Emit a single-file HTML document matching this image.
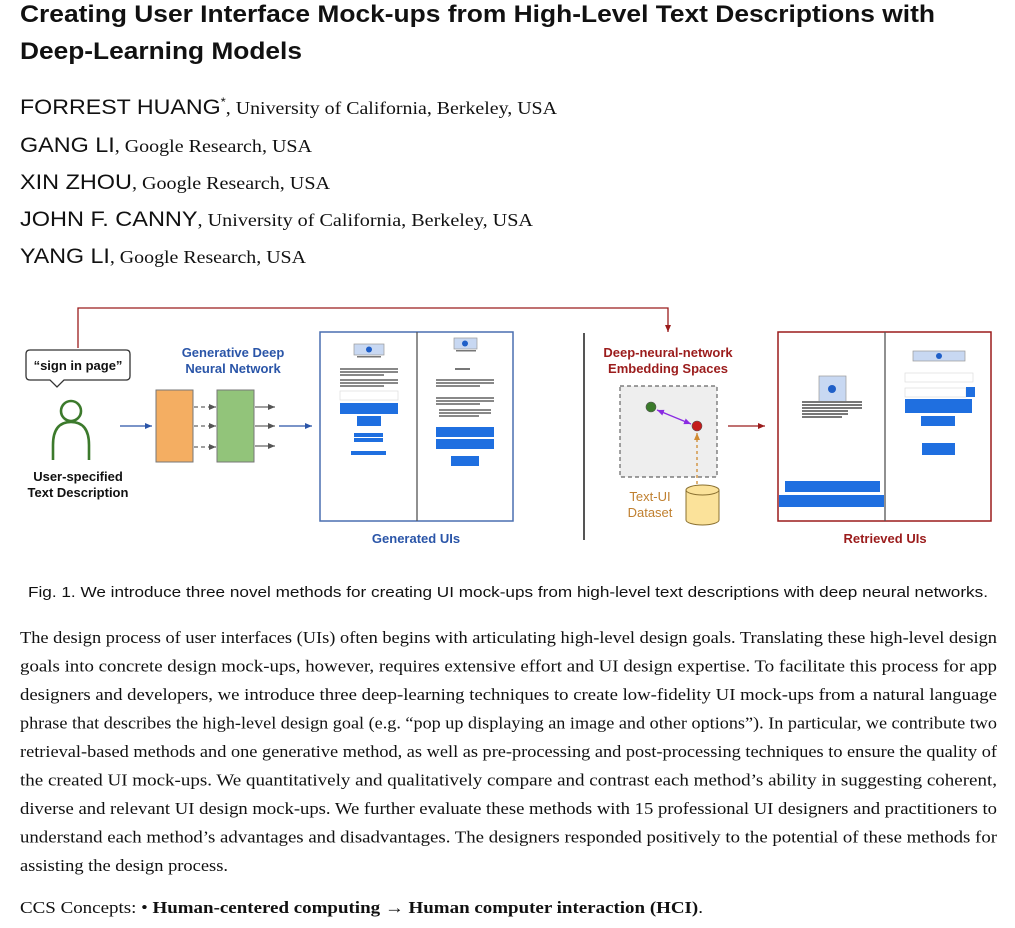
<!DOCTYPE html>
<html><head><meta charset="utf-8"><style>
html,body{margin:0;padding:0;background:#fff;}
svg{display:block;}
.t{font-family:"Liberation Sans",sans-serif;font-weight:bold;fill:#111;}
.nm{font-family:"Liberation Sans",sans-serif;fill:#111;}
.af{font-family:"Liberation Serif",serif;fill:#111;}
.p{font-family:"Liberation Serif",serif;font-size:16.5px;fill:#111;}
.fs{font-family:"Liberation Sans",sans-serif;font-weight:bold;font-size:13px;}
</style></head><body>
<svg width="1015" height="928" viewBox="0 0 1015 928" xmlns="http://www.w3.org/2000/svg">
<defs>
<marker id="ab" markerWidth="8" markerHeight="8" refX="7" refY="4" orient="auto" markerUnits="userSpaceOnUse"><path d="M0,1 L7,4 L0,7 z" fill="#2a55a8"/></marker>
<marker id="ag" markerWidth="8" markerHeight="8" refX="7" refY="4" orient="auto" markerUnits="userSpaceOnUse"><path d="M0,1 L7,4 L0,7 z" fill="#555"/></marker>
<marker id="ar" markerWidth="8" markerHeight="8" refX="7" refY="4" orient="auto" markerUnits="userSpaceOnUse"><path d="M0,1 L7,4 L0,7 z" fill="#9b1c1c"/></marker>
<marker id="ap" markerWidth="8" markerHeight="8" refX="7" refY="4" orient="auto-start-reverse" markerUnits="userSpaceOnUse"><path d="M0,1 L7,4 L0,7 z" fill="#8a2be2"/></marker>
<marker id="ao" markerWidth="8" markerHeight="8" refX="7" refY="4" orient="auto" markerUnits="userSpaceOnUse"><path d="M0,1 L7,4 L0,7 z" fill="#d08a30"/></marker>
</defs>

<!-- Title -->
<text class="t" x="20" y="22" font-size="24" textLength="915" lengthAdjust="spacingAndGlyphs">Creating User Interface Mock-ups from High-Level Text Descriptions with</text>
<text class="t" x="20" y="59" font-size="24" textLength="282" lengthAdjust="spacingAndGlyphs">Deep-Learning Models</text>

<!-- Authors -->
<text x="20" y="114" textLength="537" lengthAdjust="spacingAndGlyphs"><tspan class="nm" font-size="21">FORREST HUANG</tspan><tspan class="nm" font-size="12" dy="-8">*</tspan><tspan class="af" font-size="18" dy="8">, University of California, Berkeley, USA</tspan></text>
<text x="20" y="152" textLength="292" lengthAdjust="spacingAndGlyphs"><tspan class="nm" font-size="21">GANG LI</tspan><tspan class="af" font-size="18">, Google Research, USA</tspan></text>
<text x="20" y="189" textLength="310" lengthAdjust="spacingAndGlyphs"><tspan class="nm" font-size="21">XIN ZHOU</tspan><tspan class="af" font-size="18">, Google Research, USA</tspan></text>
<text x="20" y="226" textLength="513" lengthAdjust="spacingAndGlyphs"><tspan class="nm" font-size="21">JOHN F. CANNY</tspan><tspan class="af" font-size="18">, University of California, Berkeley, USA</tspan></text>
<text x="20" y="263" textLength="286" lengthAdjust="spacingAndGlyphs"><tspan class="nm" font-size="21">YANG LI</tspan><tspan class="af" font-size="18">, Google Research, USA</tspan></text>

<!-- Figure: red top connector -->
<polyline points="78,348 78,308 668,308 668,332" fill="none" stroke="#9b1c1c" stroke-width="1.3" marker-end="url(#ar)"/>

<!-- speech bubble -->
<path d="M30,350 H126 Q130,350 130,354 V376 Q130,380 126,380 H64 L57,387 L50,380 H30 Q26,380 26,376 V354 Q26,350 30,350 Z" fill="#fff" stroke="#333" stroke-width="1.3"/>
<text class="fs" x="78" y="370" text-anchor="middle" fill="#111">“sign in page”</text>

<!-- person -->
<circle cx="71" cy="411" r="10" fill="none" stroke="#3c7a2c" stroke-width="2.6"/>
<path d="M53,460 V445 Q53,422 71,422 Q89,422 89,445 V460" fill="none" stroke="#3c7a2c" stroke-width="2.6"/>
<text class="fs" x="78" y="481" text-anchor="middle" fill="#111">User-specified</text>
<text class="fs" x="78" y="497" text-anchor="middle" fill="#111">Text Description</text>

<!-- Generative network -->
<text class="fs" x="233" y="357" text-anchor="middle" fill="#2a55a8">Generative Deep</text>
<text class="fs" x="233" y="373" text-anchor="middle" fill="#2a55a8">Neural Network</text>
<line x1="120" y1="426" x2="152" y2="426" stroke="#2a55a8" stroke-width="1.3" marker-end="url(#ab)"/>
<rect x="156" y="390" width="37" height="72" fill="#f4ae62" stroke="#777" stroke-width="1"/>
<rect x="217" y="390" width="37" height="72" fill="#92c47a" stroke="#777" stroke-width="1"/>
<g stroke="#666" stroke-width="1.3" stroke-dasharray="4,3">
<line x1="194" y1="407" x2="216" y2="407" marker-end="url(#ag)"/>
<line x1="194" y1="426" x2="216" y2="426" marker-end="url(#ag)"/>
<line x1="194" y1="447" x2="216" y2="447" marker-end="url(#ag)"/>
</g>
<g stroke="#666" stroke-width="1.3">
<line x1="255" y1="407" x2="275" y2="407" marker-end="url(#ag)"/>
<line x1="255" y1="426" x2="275" y2="426" marker-end="url(#ag)"/>
<line x1="255" y1="446" x2="275" y2="446" marker-end="url(#ag)"/>
</g>
<line x1="279" y1="426" x2="312" y2="426" stroke="#2a55a8" stroke-width="1.3" marker-end="url(#ab)"/>

<!-- Generated UIs -->
<rect x="320" y="332" width="193" height="189" fill="#fff" stroke="#4a6fb0" stroke-width="1.5"/>
<line x1="417" y1="332" x2="417" y2="521" stroke="#555" stroke-width="1.3"/>
<g>
<rect x="354" y="344" width="30" height="11" fill="#c8d8f2" stroke="#999" stroke-width="0.7"/>
<circle cx="369" cy="349.5" r="3" fill="#1f5fc8"/>
<rect x="357" y="356" width="24" height="1.5" fill="#777"/>
<g fill="#888"><rect x="340" y="368" width="58" height="2"/><rect x="340" y="371" width="58" height="2"/><rect x="340" y="374" width="44" height="2"/><rect x="340" y="379" width="58" height="2"/><rect x="340" y="382" width="58" height="2"/><rect x="340" y="385" width="44" height="2"/></g>
<rect x="340" y="391" width="58" height="9" fill="#fff" stroke="#ddd" stroke-width="0.7"/>
<g fill="#1f6fe0"><rect x="340" y="403" width="58" height="11"/><rect x="357" y="416" width="24" height="10"/><rect x="354" y="433" width="29" height="4"/><rect x="354" y="438" width="29" height="4"/><rect x="351" y="451" width="35" height="4"/></g>
<rect x="454" y="338" width="23" height="11" fill="#c8d8f2" stroke="#999" stroke-width="0.7"/>
<circle cx="465" cy="343.5" r="3" fill="#1f5fc8"/>
<rect x="456" y="350" width="20" height="1.5" fill="#777"/>
<rect x="455" y="368" width="15" height="2" fill="#777"/>
<g fill="#888"><rect x="436" y="379" width="58" height="2"/><rect x="436" y="382" width="58" height="2"/><rect x="436" y="385" width="44" height="2"/><rect x="436" y="397" width="58" height="2"/><rect x="436" y="400" width="58" height="2"/><rect x="436" y="403" width="44" height="2"/><rect x="439" y="409" width="52" height="2"/><rect x="439" y="412" width="52" height="2"/><rect x="439" y="415" width="40" height="2"/></g>
<g fill="#1f6fe0"><rect x="436" y="427" width="58" height="10"/><rect x="436" y="439" width="58" height="10"/><rect x="451" y="456" width="28" height="10"/></g>
</g>
<text class="fs" x="416" y="543" text-anchor="middle" fill="#2a55a8">Generated UIs</text>

<!-- separator -->
<line x1="584" y1="333" x2="584" y2="540" stroke="#555" stroke-width="2"/>

<!-- Embedding -->
<text class="fs" x="668" y="357" text-anchor="middle" fill="#9b1c1c">Deep-neural-network</text>
<text class="fs" x="668" y="373" text-anchor="middle" fill="#9b1c1c">Embedding Spaces</text>
<rect x="620" y="386" width="97" height="91" fill="#eeeeee" stroke="#666" stroke-width="1.2" stroke-dasharray="4,3"/>
<line x1="657" y1="410" x2="691" y2="424" stroke="#8a2be2" stroke-width="1.3" marker-start="url(#ap)" marker-end="url(#ap)"/>
<circle cx="651" cy="407" r="5" fill="#3a7a2a" stroke="#555" stroke-width="0.6"/>
<circle cx="697" cy="426" r="5" fill="#c41a1a" stroke="#555" stroke-width="0.6"/>
<line x1="697" y1="484" x2="697" y2="433" stroke="#d08a30" stroke-width="1.3" stroke-dasharray="3,3" marker-end="url(#ao)"/>
<path d="M686,490 V520 A16.5,5 0 0 0 719,520 V490" fill="#fbe29a" stroke="#8a7030" stroke-width="1"/>
<ellipse cx="702.5" cy="490" rx="16.5" ry="5" fill="#fbe29a" stroke="#8a7030" stroke-width="1"/>
<text x="650" y="501" text-anchor="middle" font-family="Liberation Sans,sans-serif" font-size="13" fill="#c08030">Text-UI</text>
<text x="650" y="517" text-anchor="middle" font-family="Liberation Sans,sans-serif" font-size="13" fill="#c08030">Dataset</text>
<line x1="728" y1="426" x2="765" y2="426" stroke="#9b1c1c" stroke-width="1.3" marker-end="url(#ar)"/>

<!-- Retrieved UIs -->
<rect x="778" y="332" width="213" height="189" fill="#fff" stroke="#9b1c1c" stroke-width="1.5"/>
<line x1="885" y1="332" x2="885" y2="521" stroke="#555" stroke-width="1.3"/>
<rect x="819" y="376" width="27" height="26" fill="#c8d8f2" stroke="#999" stroke-width="0.7"/>
<circle cx="832" cy="389" r="4" fill="#1f5fc8"/>
<g fill="#777"><rect x="802" y="401" width="60" height="2"/><rect x="802" y="404" width="60" height="2"/><rect x="802" y="407" width="60" height="2"/><rect x="802" y="410" width="46" height="2"/><rect x="802" y="413" width="46" height="2"/><rect x="802" y="416" width="40" height="2"/></g>
<g fill="#1f6fe0"><rect x="785" y="481" width="95" height="11"/><rect x="779" y="495" width="105" height="12"/></g>
<rect x="913" y="351" width="52" height="10" fill="#c8d8f2" stroke="#999" stroke-width="0.7"/>
<circle cx="939" cy="356" r="3" fill="#1f5fc8"/>
<rect x="905" y="373" width="68" height="9" fill="#fff" stroke="#ddd" stroke-width="0.7"/>
<rect x="905" y="388" width="61" height="9" fill="#fff" stroke="#ddd" stroke-width="0.7"/>
<g fill="#1f6fe0"><rect x="966" y="387" width="9" height="10"/><rect x="905" y="399" width="67" height="14"/><rect x="921" y="416" width="34" height="10"/><rect x="922" y="443" width="33" height="12"/></g>
<text class="fs" x="885" y="543" text-anchor="middle" fill="#9b1c1c">Retrieved UIs</text>

<!-- Caption -->
<text x="28" y="597" font-family="Liberation Sans,sans-serif" font-size="15" fill="#111" textLength="960" lengthAdjust="spacingAndGlyphs">Fig. 1.  We introduce three novel methods for creating UI mock-ups from high-level text descriptions with deep neural networks.</text>

<!-- Abstract -->
<text class="p" x="20" y="643" textLength="977" lengthAdjust="spacingAndGlyphs">The design process of user interfaces (UIs) often begins with articulating high-level design goals. Translating these high-level design</text>
<text class="p" x="20" y="671.5" textLength="977" lengthAdjust="spacingAndGlyphs">goals into concrete design mock-ups, however, requires extensive effort and UI design expertise. To facilitate this process for app</text>
<text class="p" x="20" y="700" textLength="977" lengthAdjust="spacingAndGlyphs">designers and developers, we introduce three deep-learning techniques to create low-fidelity UI mock-ups from a natural language</text>
<text class="p" x="20" y="728.5" textLength="977" lengthAdjust="spacingAndGlyphs">phrase that describes the high-level design goal (e.g. “pop up displaying an image and other options”). In particular, we contribute two</text>
<text class="p" x="20" y="757" textLength="977" lengthAdjust="spacingAndGlyphs">retrieval-based methods and one generative method, as well as pre-processing and post-processing techniques to ensure the quality of</text>
<text class="p" x="20" y="785.5" textLength="977" lengthAdjust="spacingAndGlyphs">the created UI mock-ups. We quantitatively and qualitatively compare and contrast each method’s ability in suggesting coherent,</text>
<text class="p" x="20" y="814" textLength="977" lengthAdjust="spacingAndGlyphs">diverse and relevant UI design mock-ups. We further evaluate these methods with 15 professional UI designers and practitioners to</text>
<text class="p" x="20" y="842.5" textLength="977" lengthAdjust="spacingAndGlyphs">understand each method’s advantages and disadvantages. The designers responded positively to the potential of these methods for</text>
<text class="p" x="20" y="871" textLength="208" lengthAdjust="spacingAndGlyphs">assisting the design process.</text>

<text class="p" x="20" y="913" textLength="683" lengthAdjust="spacingAndGlyphs">CCS Concepts: • <tspan font-weight="bold">Human-centered computing → Human computer interaction (HCI)</tspan>.</text>
</svg>
</body></html>
